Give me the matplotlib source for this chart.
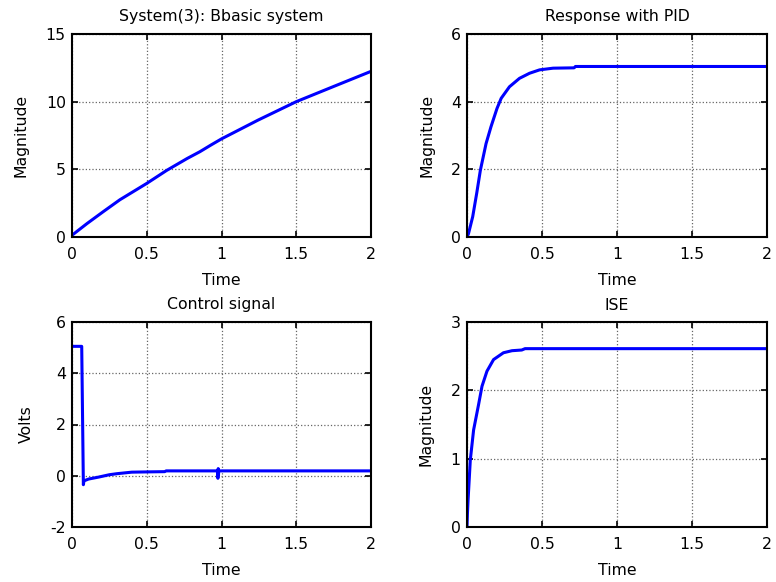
import matplotlib
matplotlib.use("Agg")
import matplotlib.pyplot as plt

plt.rcParams['font.family'] = ['DejaVu Sans']

# System(3): basic system
t_basic = [0, 0.1, 0.21, 0.32, 0.5, 0.633, 0.77, 0.855, 0.93, 1.0, 1.245, 1.5, 1.745, 2.0]
y_basic = [0.13, 0.99, 1.88, 2.75, 3.96, 4.92, 5.8, 6.3, 6.8, 7.25, 8.64, 10.0, 11.1, 12.24]

# Response with PID
t_pid = [0, 0.01, 0.038, 0.065, 0.089, 0.127, 0.16, 0.2, 0.228, 0.283, 0.35, 0.417, 0.484,
         0.574, 0.714, 0.723, 1.0, 1.5, 2.0]
y_pid = [0.0, 0.1, 0.6, 1.3, 1.97, 2.76, 3.26, 3.8, 4.1, 4.44, 4.69, 4.84, 4.94,
         4.99, 5.0, 5.04, 5.04, 5.04, 5.04]

# Control signal
t_u = [0, 0.065, 0.076, 0.08, 0.11, 0.18, 0.25, 0.3, 0.366, 0.4, 0.5, 0.62, 0.63,
       0.975, 0.976, 0.978, 0.98, 0.982, 1.0, 1.5, 2.0]
u = [5.05, 5.05, -0.35, -0.2, -0.13, -0.05, 0.04, 0.08, 0.12, 0.14, 0.15, 0.16, 0.19,
     0.19, -0.1, 0.28, 0.05, 0.19, 0.19, 0.19, 0.19]

# ISE
t_ise = [0, 0.003, 0.007, 0.022, 0.044, 0.077, 0.1, 0.133, 0.177, 0.243, 0.3, 0.365, 0.387,
         1.0, 2.0]
ise = [0.0, 0.2, 0.39, 0.98, 1.42, 1.79, 2.06, 2.28, 2.45, 2.55, 2.58, 2.59, 2.61,
       2.61, 2.61]

xticks = [0, 0.5, 1, 1.5, 2]
xlabels = ['0', '0.5', '1', '1.5', '2']

fig = plt.figure(figsize=(7.76, 5.82), dpi=100)
L1, R1 = 72/776, 371/776
L2, R2 = 467/776, 767/776
B1, T1 = 1-237/582, 1-34/582
B2, T2 = 1-527/582, 1-322/582

specs = [
    ([L1, B1, R1-L1, T1-B1], t_basic, y_basic, 'System(3): Bbasic system', 'Magnitude',
     (0, 15), [0, 5, 10, 15], ['0', '5', '10', '15']),
    ([L2, B1, R2-L2, T1-B1], t_pid, y_pid, 'Response with PID', 'Magnitude',
     (0, 6), [0, 2, 4, 6], ['0', '2', '4', '6']),
    ([L1, B2, R1-L1, T2-B2], t_u, u, 'Control signal', 'Volts',
     (-2, 6), [-2, 0, 2, 4, 6], ['-2', '0', '2', '4', '6']),
    ([L2, B2, R2-L2, T2-B2], t_ise, ise, 'ISE', 'Magnitude',
     (0, 3), [0, 1, 2, 3], ['0', '1', '2', '3']),
]

fs = 11.3
for rect, x, y, title, ylab, ylim, yt, ytl in specs:
    ax = fig.add_axes(rect)
    ax.plot(x, y, color='#0000ff', lw=2.2)
    ax.set_xlim(0, 2)
    ax.set_ylim(*ylim)
    ax.set_xticks(xticks)
    ax.set_xticklabels(xlabels)
    ax.set_yticks(yt)
    ax.set_yticklabels(ytl)
    ax.grid(True, color='#666666', linestyle=':', linewidth=0.9)
    ax.tick_params(axis='x', pad=7)
    ax.tick_params(axis='y', pad=4.5)
    ax.tick_params(direction='in', top=True, right=True, labelsize=fs, length=4,
                   width=1.2)
    for s in ax.spines.values():
        s.set_linewidth(1.5)
    ax.set_title(title, fontsize=fs, pad=9)
    ax.set_xlabel('Time', fontsize=fs, labelpad=8)
    ax.set_ylabel(ylab, fontsize=fs, labelpad=12)

fig.savefig('out.png', dpi=100)
